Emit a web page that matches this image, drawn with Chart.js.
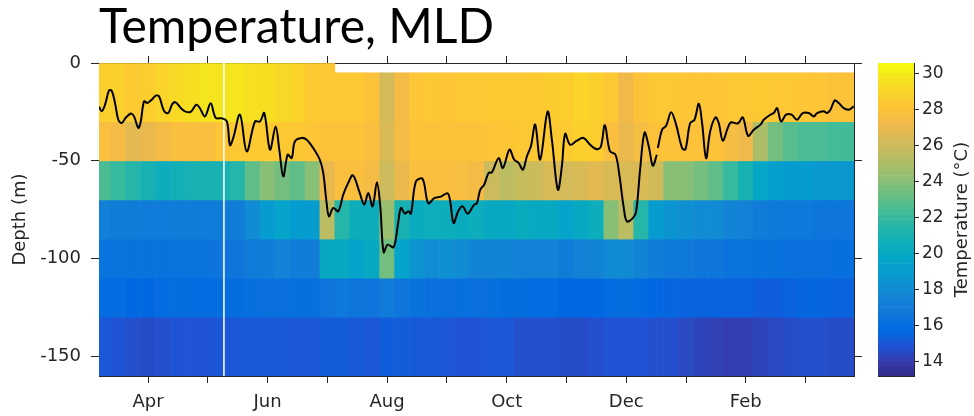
<!DOCTYPE html>
<html>
<head>
<meta charset="utf-8">
<script src="https://cdn.jsdelivr.net/npm/chart.js@4.4.1/dist/chart.umd.min.js"></script>
<style>
  body { margin: 0; background: #fff; }
  #wrap { position: relative; width: 974px; height: 416px; }
  #main { position: absolute; left: 0; top: 0; }
  #cbar { position: absolute; left: 870px; top: 0; }
</style>
</head>
<body>
<div id="wrap">
  <canvas id="main" width="870" height="416"></canvas>
  <canvas id="cbar" width="104" height="416"></canvas>
</div>
<script>
// time axis is in months: 1 = 1 Apr, 12 = 1 Mar
const monthTicks = [1, 2, 3, 4, 5, 6, 7, 8, 9, 10, 11, 12];
const monthNames = ['Apr', '', 'Jun', '', 'Aug', '', 'Oct', '', 'Dec', '', 'Feb', ''];
const timeRange = [0.18, 12.81];

// depth bin edges (m) and the axis ticks
const depthEdges = [0, -5, -30, -50, -70, -90, -110, -130, -160];
const depthTicks = [-150, -100, -50, 0];

// centre of each gridded time column
const colTimes = [0.25, 0.5, 0.75, 1, 1.25, 1.5, 1.75, 2, 2.25, 2.5, 2.75, 3, 3.25, 3.5, 3.75, 4,
  4.25, 4.5, 4.75, 5, 5.25, 5.5, 5.75, 6, 6.25, 6.5, 6.75, 7, 7.25, 7.5, 7.75, 8,
  8.25, 8.5, 8.75, 9, 9.25, 9.5, 9.75, 10, 10.25, 10.5, 10.75, 11, 11.25, 11.5, 11.75, 12,
  12.25, 12.5, 12.75];

// gridded temperature (degC) per depth bin, null = no data
const t0to5 = [28.8, 28.8, 28.5, 28.7, 29.0, 29.3, 29.5, 29.8,
  29.8, 29.8, 29.6, 29.5, 29.2, 29.0, 28.5, 28.3,
  null, null, null, null, null, null, null, null,
  null, null, null, null, null, null, null, null,
  null, null, null, null, null, null, null, null,
  null, null, null, null, null, null, null, null,
  null, null, null];
const t5to30 = [28.8, 28.8, 28.5, 28.7, 29.0, 29.3, 29.5, 29.8,
  29.8, 29.8, 29.6, 29.5, 29.2, 29.0, 28.5, 28.3,
  28.3, 28.3, 28.0, 26.3, 27.5, 28.2, 28.3, 28.2,
  28.3, 28.3, 28.4, 28.4, 28.4, 28.5, 28.6, 28.7,
  29.0, 28.8, 28.3, 27.3, 28.0, 28.3, 28.3, 28.2,
  28.2, 28.2, 28.3, 28.3, 28.4, 28.3, 28.3, 28.2,
  28.2, 28.0, 28.0];
const t30to50 = [27.8, 27.5, 26.8, 27.0, 27.5, 27.8, 27.8, 27.8,
  28.2, 28.4, 28.5, 28.5, 28.4, 28.3, 28.2, 28.0,
  28.0, 28.0, 27.8, 26.5, 27.5, 28.0, 28.0, 28.0,
  28.0, 28.0, 28.1, 28.2, 28.3, 28.3, 28.4, 28.5,
  28.8, 28.7, 27.8, 27.0, 27.6, 28.0, 28.0, 28.0,
  28.0, 28.0, 27.6, 27.2, 25.0, 23.5, 22.8, 22.5,
  22.5, 22.3, 22.3];
const t50to70 = [22.5, 22.0, 21.5, 21.0, 20.5, 20.8, 21.0, 21.0,
  21.0, 21.5, 23.0, 24.0, 23.5, 23.0, 24.0, 27.0,
  27.8, 27.8, 27.5, 26.0, 27.0, 27.8, 27.8, 27.8,
  27.7, 27.5, 26.0, 25.5, 25.8, 26.0, 26.5, 26.3,
  26.5, 26.8, 26.5, 26.5, 26.5, 26.2, 24.0, 24.0,
  23.5, 23.0, 22.0, 21.0, 19.8, 19.3, 19.0, 19.0,
  18.8, 18.8, 18.7];
const t70to90 = [17.2, 17.0, 17.0, 16.9, 16.9, 17.0, 17.0, 16.9,
  17.0, 17.1, 18.0, 19.0, 19.5, 19.0, 19.0, 25.5,
  21.5, 20.5, 20.5, 24.5, 21.0, 20.3, 20.5, 20.5,
  20.3, 20.5, 20.0, 20.0, 20.3, 20.0, 20.0, 19.5,
  20.0, 20.5, 24.0, 25.5, 21.5, 19.0, 18.5, 18.3,
  18.0, 18.0, 17.5, 17.3, 17.0, 16.8, 16.7, 16.7,
  16.5, 16.5, 16.5];
const t90to110 = [16.4, 16.4, 16.3, 16.3, 16.3, 16.4, 16.4, 16.4,
  16.5, 16.6, 16.9, 17.1, 17.4, 17.1, 17.1, 20.0,
  20.0, 19.5, 20.0, 23.5, 19.5, 18.5, 18.0, 18.3,
  18.0, 17.5, 17.5, 17.5, 17.3, 17.3, 17.3, 17.0,
  17.3, 17.5, 18.0, 18.0, 17.5, 17.0, 16.8, 16.8,
  16.6, 16.6, 16.4, 16.4, 16.3, 16.3, 16.2, 16.2,
  16.2, 16.1, 16.1];
const t110to130 = [15.9, 15.9, 15.7, 15.7, 15.9, 16.0, 15.9, 15.9,
  16.0, 16.0, 16.1, 16.2, 16.2, 16.1, 16.1, 16.5,
  16.7, 16.5, 16.5, 16.9, 16.5, 16.3, 16.2, 16.2,
  16.1, 16.2, 16.1, 16.0, 16.0, 15.9, 15.9, 15.7,
  15.7, 15.7, 15.9, 16.0, 15.8, 15.7, 15.6, 15.5,
  15.5, 15.5, 15.5, 15.5, 15.3, 15.3, 15.5, 15.6,
  15.6, 15.5, 15.5];
const t130to160 = [15.0, 14.9, 14.7, 14.6, 14.7, 14.9, 14.9, 14.9,
  15.0, 15.0, 15.1, 15.1, 15.1, 15.0, 15.0, 15.2,
  15.2, 15.1, 15.0, 15.3, 15.2, 15.1, 15.1, 15.0,
  14.9, 14.9, 15.0, 15.0, 14.7, 14.7, 14.7, 14.6,
  14.6, 14.7, 14.9, 14.9, 14.9, 14.7, 14.7, 14.5,
  14.3, 14.2, 14.1, 14.1, 14.3, 14.5, 14.6, 14.7,
  14.7, 14.6, 14.6];

// mixed layer depth (m); null marks the break in the record
const mldTime = [0.181, 0.226, 0.281, 0.348, 0.393, 0.448, 0.503, 0.560, 0.627, 0.716,
  0.766, 0.838, 0.878, 0.933, 0.988, 1.062, 1.129, 1.184, 1.268, 1.339,
  1.406, 1.463, 1.547, 1.619, 1.714, 1.808, 1.865, 1.953, 2.048, 2.132,
  2.242, 2.321, 2.371, 2.426, 2.538, 2.651, 2.789, 2.873, 2.945, 3.040,
  3.135, 3.196, 3.263, 3.336, 3.403, 3.458, 3.570, 3.654, 3.764, 3.876,
  3.931, 3.988, 4.027, 4.099, 4.182, 4.266, 4.349, 4.428, 4.533, 4.617,
  4.684, 4.757, 4.829, 4.885, 4.941, 5.008, 5.109, 5.176, 5.231, 5.298,
  5.353, 5.398, 5.482, 5.594, 5.687, 5.788, 5.900, 6.012, 6.055, 6.112,
  6.189, 6.263, 6.346, 6.457, 6.502, 6.557, 6.624, 6.697, 6.753, 6.865,
  6.936, 7.048, 7.125, 7.199, 7.271, 7.338, 7.405, 7.477, 7.560, 7.684,
  7.756, 7.856, 7.923, 7.978, 8.062, 8.174, 8.286, 8.396, 8.508, 8.575,
  8.642, 8.726, 8.821, 8.888, 8.955, 9.010, 9.110, 9.166, 9.232, 9.306,
  9.378, 9.445, 9.512, 9.520, 9.528, 9.600, 9.667, 9.751, 9.834, 9.935,
  9.991, 10.068, 10.142, 10.214, 10.269, 10.336, 10.403, 10.493, 10.548, 10.615,
  10.699, 10.749, 10.871, 10.950, 11.038, 11.134, 11.246, 11.301, 11.413, 11.468,
  11.524, 11.590, 11.674, 11.764, 11.858, 11.953, 12.054, 12.137, 12.192, 12.304,
  12.360, 12.416, 12.488, 12.555, 12.639, 12.722, 12.806];
const mldDepth = [-22.3, -24.7, -21.3, -14.0, -14.2, -20.4, -29.0, -30.7, -28.0, -25.8,
  -27.3, -33.2, -30.0, -19.6, -20.4, -18.8, -16.7, -17.0, -24.5, -25.6,
  -21.0, -20.1, -23.0, -24.7, -25.0, -21.3, -23.0, -27.3, -20.6, -28.0,
  -28.3, -30.0, -42.0, -38.3, -26.4, -45.2, -29.9, -29.9, -25.6, -44.3,
  -32.4, -44.3, -58.0, -46.9, -48.6, -40.0, -38.3, -39.2, -43.5, -49.6,
  -56.2, -71.6, -78.4, -74.1, -75.8, -67.3, -61.3, -57.4, -65.6, -72.4,
  -66.5, -73.3, -61.0, -73.3, -96.8, -92.9, -94.1, -83.5, -74.1, -77.0,
  -75.8, -77.0, -60.5, -59.3, -71.7, -69.1, -68.3, -66.6, -70.8, -81.8,
  -75.8, -73.3, -77.0, -72.4, -71.7, -64.8, -62.2, -56.2, -55.9, -48.6,
  -53.7, -44.3, -49.4, -51.1, -54.5, -47.7, -42.6, -31.5, -49.4, -24.9,
  -39.2, -64.8, -52.9, -36.2, -41.8, -39.7, -38.3, -41.8, -44.1, -42.8,
  -31.8, -45.0, -46.9, -58.0, -73.3, -81.0, -79.3, -75.8, -54.5, -35.6,
  -42.8, -52.5, -46.9, null, -43.5, -34.1, -32.1, -25.2, -31.5, -43.5,
  -44.1, -30.8, -29.0, -20.8, -30.8, -48.7, -35.1, -27.8, -30.8, -39.7,
  -33.2, -30.4, -30.8, -27.8, -37.2, -34.1, -31.5, -29.0, -26.4, -25.6,
  -23.1, -29.9, -26.4, -26.4, -29.0, -25.6, -25.6, -27.3, -25.6, -24.7,
  -25.6, -23.9, -19.1, -20.5, -23.1, -23.9, -22.2];

// columns missing from the record
const gapTimes = [2.27];

// colour limits and colour bar ticks (degC)
const colorRange = [13.2, 30.6];
const colorTicks = [14, 16, 18, 20, 22, 24, 26, 28, 30];

// parula, every third entry of the 64 colour table
const parula = [
  [53, 42, 135], [53, 61, 173], [32, 83, 212], [2, 104, 225], [13, 117, 220],
  [20, 129, 214], [16, 142, 210], [7, 156, 207], [6, 167, 198], [15, 174, 185],
  [37, 181, 169], [66, 187, 152], [101, 190, 134], [135, 191, 119], [165, 190, 107],
  [192, 188, 96], [217, 186, 86], [241, 185, 74], [255, 195, 55], [250, 211, 42],
  [245, 228, 29], [249, 251, 14]
];

function parulaColor(v) {
  const f = Math.min(1, Math.max(0, (v - colorRange[0]) / (colorRange[1] - colorRange[0])));
  const p = f * (parula.length - 1);
  const i = Math.min(parula.length - 2, Math.floor(p));
  const w = p - i;
  const c = parula[i].map((a, k) => Math.round(a + (parula[i + 1][k] - a) * w));
  return 'rgb(' + c[0] + ',' + c[1] + ',' + c[2] + ')';
}

const axisColor = '#262626';
const tickFont = { family: 'DejaVu Sans', size: 18 };

const rows = [t0to5, t5to30, t30to50, t50to70, t70to90, t90to110, t110to130, t130to160];

// one floating-bar dataset per depth bin
const heatSets = rows.map((temps, r) => ({
  type: 'bar',
  xAxisID: 'x',
  yAxisID: 'y',
  data: colTimes
    .map((t, i) => ({ x: t, y: [depthEdges[r], depthEdges[r + 1]], temp: temps[i] }))
    .filter(d => d.temp !== null),
  backgroundColor: c => (c.raw ? parulaColor(c.raw.temp) : '#000'),
  borderWidth: 0,
  grouped: false,
  categoryPercentage: 1,
  barPercentage: 1,
  clip: 0,
  order: 2
}));

const gapSet = {
  type: 'line',
  xAxisID: 'x',
  yAxisID: 'y',
  data: gapTimes.flatMap(t => [{ x: t, y: depthEdges[0] }, { x: t, y: depthEdges[depthEdges.length - 1] }]),
  borderColor: '#ffffff',
  borderWidth: 1.5,
  pointRadius: 0,
  order: 1
};

const mldSet = {
  type: 'line',
  xAxisID: 'x',
  yAxisID: 'y',
  data: mldTime.map((t, i) => ({ x: t, y: mldDepth[i] })),
  borderColor: '#000000',
  borderWidth: 2,
  pointRadius: 0,
  tension: 0.35,
  spanGaps: false,
  order: 0
};

const titleFont = { family: 'Lato', size: 48, weight: 'normal', lineHeight: 1.15 };

// shared settings for the four sides of the axes box
function boxAxis(extra) {
  return Object.assign({
    offset: false,
    grid: { display: true, drawOnChartArea: false, offset: false, tickLength: 7, tickColor: axisColor, tickWidth: 1 },
    border: { display: true, color: axisColor, width: 1 }
  }, extra);
}

new Chart(document.getElementById('main'), {
  type: 'bar',
  data: { datasets: [...heatSets, gapSet, mldSet] },
  options: {
    responsive: false,
    animation: false,
    layout: { padding: 0 },
    plugins: {
      legend: { display: false },
      tooltip: { enabled: false },
      title: {
        display: true,
        text: 'Temperature, MLD',
        align: 'start',
        fullSize: false,
        color: '#000',
        font: titleFont,
        padding: { top: 0, bottom: 0 }
      }
    },
    scales: {
      x: boxAxis({
        type: 'linear', position: 'bottom', min: timeRange[0], max: timeRange[1],
        ticks: {
          autoSkip: false, maxRotation: 0, padding: 9, color: axisColor, font: tickFont,
          callback: v => monthNames[monthTicks.indexOf(v)] || ''
        },
        afterBuildTicks: s => { s.ticks = monthTicks.map(v => ({ value: v })); },
        afterFit: s => { s.height = 40; }
      }),
      x2: boxAxis({
        type: 'linear', position: 'top', min: timeRange[0], max: timeRange[1],
        ticks: { display: false },
        afterBuildTicks: s => { s.ticks = monthTicks.map(v => ({ value: v })); },
        afterFit: s => { s.height = 63 - titleFont.size * titleFont.lineHeight; }
      }),
      y: boxAxis({
        type: 'linear', position: 'left', min: depthEdges[depthEdges.length - 1], max: depthEdges[0],
        grid: { display: true, drawOnChartArea: false, tickLength: 8, tickColor: axisColor },
        ticks: { padding: 10, color: axisColor, font: tickFont },
        title: { display: true, text: 'Depth (m)', color: axisColor, font: tickFont, padding: { top: 10, bottom: 0 } },
        afterBuildTicks: s => { s.ticks = depthTicks.map(v => ({ value: v })); },
        afterFit: s => { s.width = 99; }
      }),
      y2: boxAxis({
        type: 'linear', position: 'right', min: depthEdges[depthEdges.length - 1], max: depthEdges[0],
        grid: { display: true, drawOnChartArea: false, tickLength: 8, tickColor: axisColor },
        ticks: { display: false },
        afterBuildTicks: s => { s.ticks = depthTicks.map(v => ({ value: v })); },
        afterFit: s => { s.width = 16; }
      })
    }
  }
});

// colour bar: one floating bar per colour step
const nSteps = 64;
const step = (colorRange[1] - colorRange[0]) / nSteps;
const barSteps = Array.from({ length: nSteps }, (_, i) => {
  const lo = colorRange[0] + i * step;
  return { x: 'c', y: [lo, lo + step], temp: lo + step / 2 };
});

const cbarTitle = {
  id: 'cbarTitle',
  afterDraw(chart) {
    const { ctx, chartArea } = chart;
    ctx.save();
    ctx.translate(chart.width - 12, (chartArea.top + chartArea.bottom) / 2);
    ctx.rotate(-Math.PI / 2);
    ctx.font = '18px "DejaVu Sans"';
    ctx.fillStyle = axisColor;
    ctx.textAlign = 'center';
    ctx.textBaseline = 'middle';
    ctx.fillText('Temperature (°C)', 0, 0);
    ctx.restore();
  }
};

const plainEdge = {
  display: true,
  ticks: { display: false },
  grid: { display: false },
  border: { display: true, color: axisColor, width: 1 }
};

new Chart(document.getElementById('cbar'), {
  type: 'bar',
  data: {
    labels: ['c'],
    datasets: [{
      xAxisID: 'x',
      yAxisID: 'y',
      data: barSteps,
      backgroundColor: c => (c.raw ? parulaColor(c.raw.temp) : '#000'),
      borderWidth: 0,
      categoryPercentage: 1,
      barPercentage: 1
    }]
  },
  options: {
    responsive: false,
    animation: false,
    layout: { padding: 0 },
    plugins: { legend: { display: false }, tooltip: { enabled: false } },
    scales: {
      x: Object.assign({}, plainEdge, { type: 'category', position: 'bottom', afterFit: s => { s.height = 40; } }),
      xTop: Object.assign({}, plainEdge, { type: 'linear', position: 'top', min: 0, max: 1, afterFit: s => { s.height = 63; } }),
      y: {
        type: 'linear', position: 'right', min: colorRange[0], max: colorRange[1],
        grid: { display: true, drawOnChartArea: false, tickLength: 5, tickColor: axisColor },
        border: { display: true, color: axisColor, width: 1 },
        ticks: { padding: 3, color: axisColor, font: { family: 'DejaVu Sans', size: 17 } },
        afterBuildTicks: s => { s.ticks = colorTicks.map(v => ({ value: v })); },
        afterFit: s => { s.width = 60; }
      },
      yLeft: Object.assign({}, plainEdge, { type: 'linear', position: 'left', min: 0, max: 1, afterFit: s => { s.width = 8; } })
    }
  },
  plugins: [cbarTitle]
});
</script>
</body>
</html>
